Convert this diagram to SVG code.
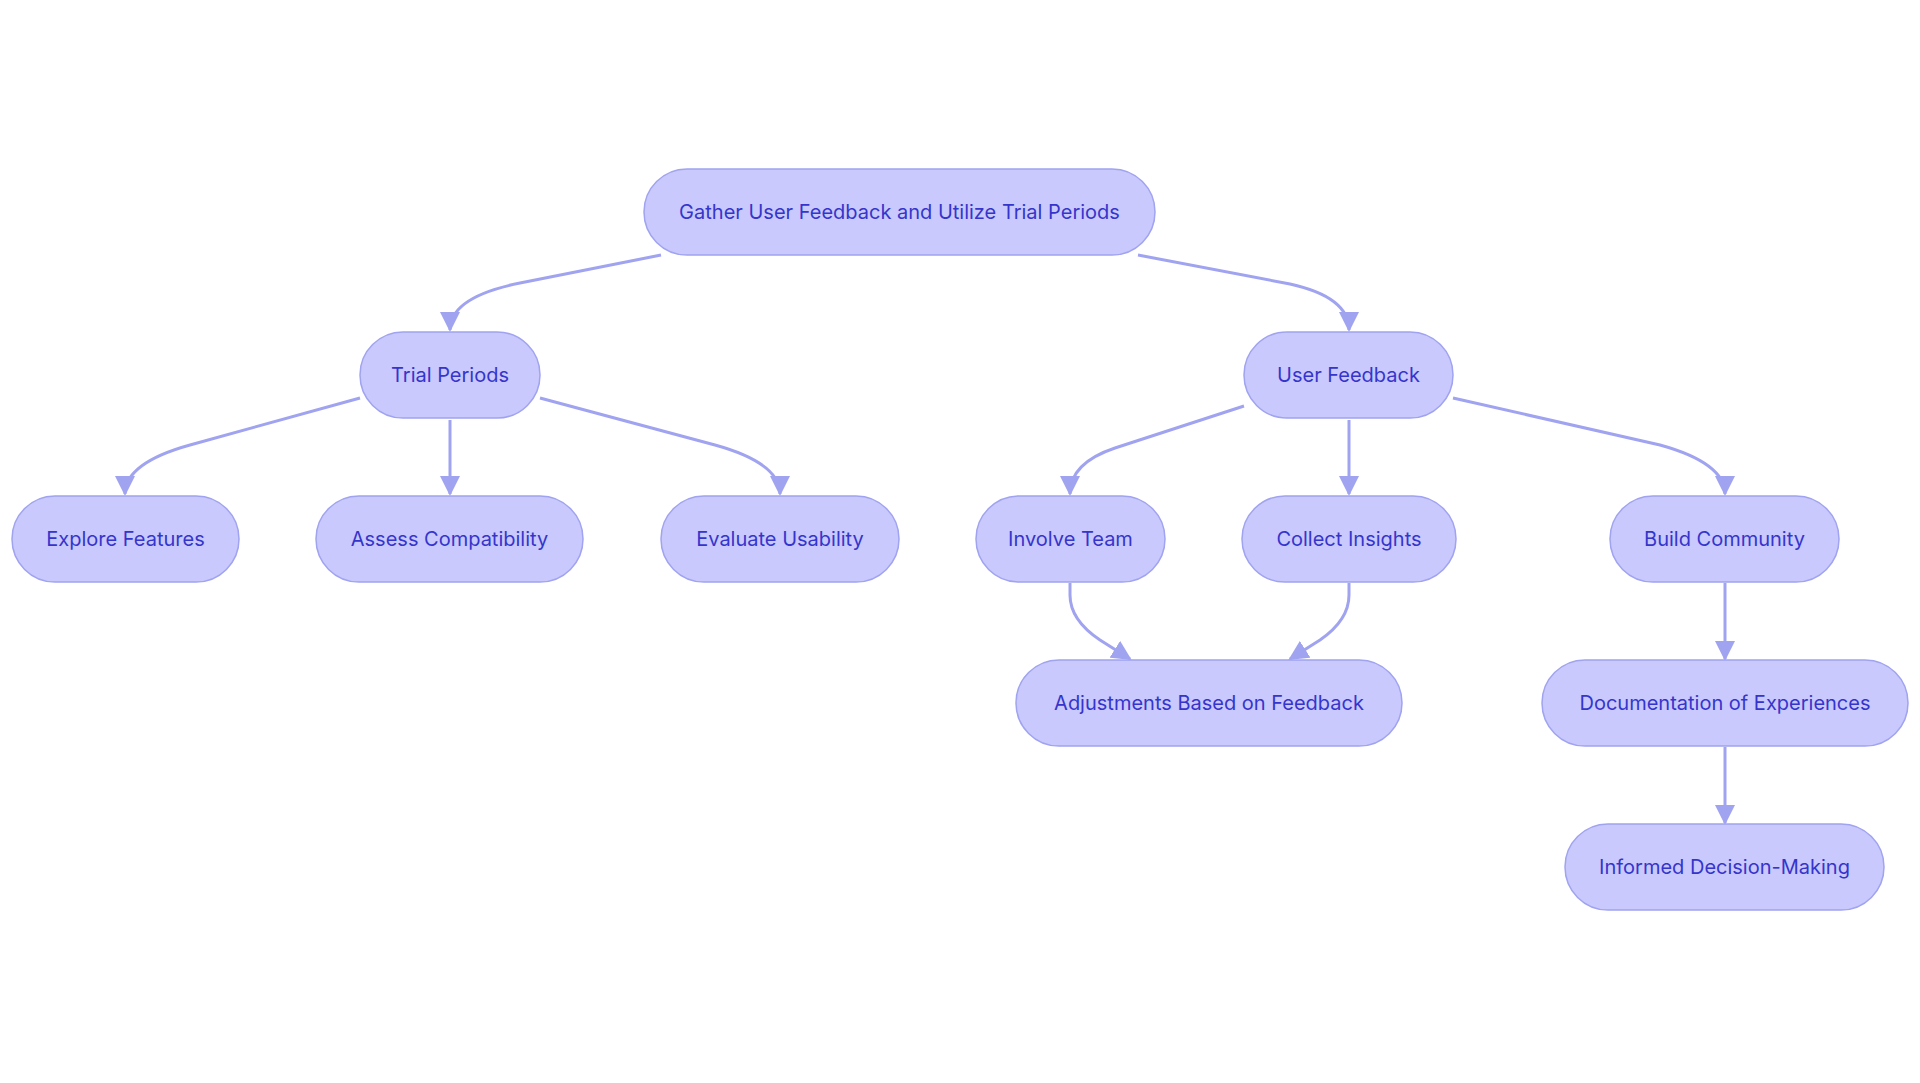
<svg xmlns="http://www.w3.org/2000/svg" width="1920" height="1083" viewBox="0 0 1920 1083">
<style>
.n rect{fill:#c9c9fd;stroke:#a0a3f0;stroke-width:1.5}
.n text{font-family:Inter,"Noto Sans",sans-serif;font-size:20px;fill:#3535cc;text-anchor:middle;dominant-baseline:central}
.e path{fill:none;stroke:#a0a3f0;stroke-width:3;marker-end:url(#ah)}
</style>
<defs><marker id="ah" markerUnits="userSpaceOnUse" markerWidth="20" markerHeight="20" viewBox="0 0 10 10" refX="9" refY="5" orient="auto"><path d="M0,0 L10,5 L0,10 z" fill="#a0a3f0"/></marker></defs>
<rect width="1920" height="1083" fill="#fff"/>
<g class="e">
<path d="M661,255 L520,283 Q450,297 450,330"/>
<path d="M1138,255 L1290,284 Q1349,297 1349,330"/>
<path d="M360,398 L190,445 Q125,463 125,494"/>
<path d="M450,420 L450,494"/>
<path d="M540,398 L715,445 Q780,463 780,494"/>
<path d="M1244,406 L1115,448 Q1070,463 1070,494"/>
<path d="M1349,420 L1349,494"/>
<path d="M1453,398 L1660,445 Q1725,463 1725,494"/>
<path d="M1070,583 L1070,595 Q1070,620 1100,640 L1130,659"/>
<path d="M1349,583 L1349,595 Q1349,620 1320,640 L1290,659"/>
<path d="M1725,583 L1725,659"/>
<path d="M1725,747 L1725,823"/>
</g>
<g id="root" class="n"><rect x="644" y="169" width="511" height="86" rx="43"/><text x="899.5" y="212">Gather User Feedback and Utilize Trial Periods</text></g>
<g id="trial" class="n"><rect x="360" y="332" width="180" height="86" rx="43"/><text x="450" y="375">Trial Periods</text></g>
<g id="uf" class="n"><rect x="1244" y="332" width="209" height="86" rx="43"/><text x="1348.5" y="375">User Feedback</text></g>
<g id="explore" class="n"><rect x="12" y="496" width="227" height="86" rx="43"/><text x="125.5" y="539">Explore Features</text></g>
<g id="assess" class="n"><rect x="316" y="496" width="267" height="86" rx="43"/><text x="449.5" y="539">Assess Compatibility</text></g>
<g id="evaluate" class="n"><rect x="661" y="496" width="238" height="86" rx="43"/><text x="780" y="539">Evaluate Usability</text></g>
<g id="involve" class="n"><rect x="976" y="496" width="189" height="86" rx="43"/><text x="1070.5" y="539">Involve Team</text></g>
<g id="collect" class="n"><rect x="1242" y="496" width="214" height="86" rx="43"/><text x="1349" y="539">Collect Insights</text></g>
<g id="build" class="n"><rect x="1610" y="496" width="229" height="86" rx="43"/><text x="1724.5" y="539">Build Community</text></g>
<g id="adjust" class="n"><rect x="1016" y="660" width="386" height="86" rx="43"/><text x="1209" y="703">Adjustments Based on Feedback</text></g>
<g id="doc" class="n"><rect x="1542" y="660" width="366" height="86" rx="43"/><text x="1725" y="703">Documentation of Experiences</text></g>
<g id="informed" class="n"><rect x="1565" y="824" width="319" height="86" rx="43"/><text x="1724.5" y="867">Informed Decision-Making</text></g>
</svg>
